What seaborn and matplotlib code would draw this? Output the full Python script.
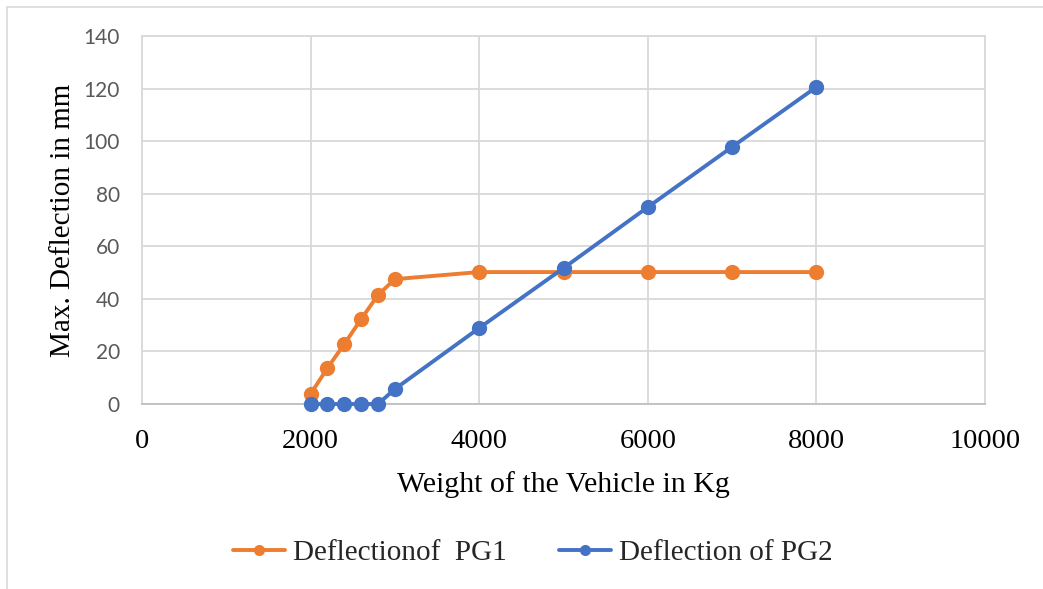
import matplotlib
matplotlib.use("Agg")
import matplotlib.pyplot as plt
import matplotlib.lines as mlines
import seaborn as sns
import pandas as pd

# Vehicle weight (kg) and maximum deflection (mm) of the two girders
weight_pg1 = [2000, 2200, 2400, 2600, 2800, 3000, 4000, 5000, 6000, 7000, 8000]
deflection_pg1 = [3.8, 13.7, 22.8, 32.3, 41.5, 47.5, 50.2, 50.2, 50.2, 50.2, 50.2]

weight_pg2 = [2000, 2200, 2400, 2600, 2800, 3000, 4000, 5000, 6000, 7000, 8000]
deflection_pg2 = [0.0, 0.0, 0.0, 0.0, 0.0, 5.7, 28.9, 51.7, 74.9, 97.8, 120.6]

series_labels = ["Deflectionof  PG1", "Deflection of PG2"]
series_colors = ["#ED7D31", "#4472C4"]

x_ticks = [0, 2000, 4000, 6000, 8000, 10000]
y_ticks = [0, 20, 40, 60, 80, 100, 120, 140]

df = pd.concat([
    pd.DataFrame({"weight": weight_pg1, "deflection": deflection_pg1, "series": series_labels[0]}),
    pd.DataFrame({"weight": weight_pg2, "deflection": deflection_pg2, "series": series_labels[1]}),
])

sns.set_theme(style="white")
serif = ["Liberation Serif", "DejaVu Serif"]
sans = ["Lato", "DejaVu Sans"]

fig = plt.figure(figsize=(10.43, 5.89), dpi=100)
ax = fig.add_axes([142 / 1043, 1 - 404 / 589, (985 - 142) / 1043, (404 - 36) / 589])

sns.lineplot(
    data=df, x="weight", y="deflection", hue="series",
    palette=dict(zip(series_labels, series_colors)),
    marker="o", markersize=11, markeredgewidth=0, linewidth=2.8,
    sort=False, legend=False, ax=ax, zorder=3,
)
for line in ax.get_lines():
    line.set_clip_on(False)

ax.set_xlim(x_ticks[0], x_ticks[-1])
ax.set_ylim(y_ticks[0], y_ticks[-1])
ax.set_xticks(x_ticks)
ax.set_yticks(y_ticks)
ax.set_xticklabels([str(t) for t in x_ticks], fontfamily=serif, fontsize=20.5, color="black")
ax.set_yticklabels([str(t) for t in y_ticks], fontfamily=sans, fontsize=15, color="#595959")
ax.tick_params(axis="x", length=0, pad=18)
ax.tick_params(axis="y", length=0, pad=16)

ax.grid(True, color="#D9D9D9", linewidth=1.3)
ax.set_axisbelow(True)
for side in ["top", "right", "left", "bottom"]:
    ax.spines[side].set_visible(True)
    ax.spines[side].set_color("#D9D9D9")
    ax.spines[side].set_linewidth(1.3)
ax.spines["bottom"].set_color("#BFBFBF")

ax.set_xlabel("Weight of the Vehicle in Kg", fontfamily=serif, fontsize=21.5, color="black", labelpad=12)
ax.set_ylabel("Max. Deflection in mm", fontfamily=serif, fontsize=21, color="black", labelpad=5)

handles = [
    mlines.Line2D([], [], color=c, marker="o", markersize=8, markeredgewidth=0, linewidth=2.8)
    for c in series_colors
]
fig.legend(
    handles, series_labels, loc="center", bbox_to_anchor=(0.5 + 11 / 1043, 1 - 553 / 589),
    ncol=2, frameon=False, prop={"family": serif, "size": 21},
    handlelength=1.8, handletextpad=0.25, columnspacing=1.8,
)

# outer chart frame (top and left edges visible)
fig.add_artist(mlines.Line2D([7 / 1043, 1], [1 - 7 / 589, 1 - 7 / 589], color="#D9D9D9", linewidth=1.2))
fig.add_artist(mlines.Line2D([7 / 1043, 7 / 1043], [0, 1 - 7 / 589], color="#D9D9D9", linewidth=1.2))

fig.savefig("out.png", dpi=100)
